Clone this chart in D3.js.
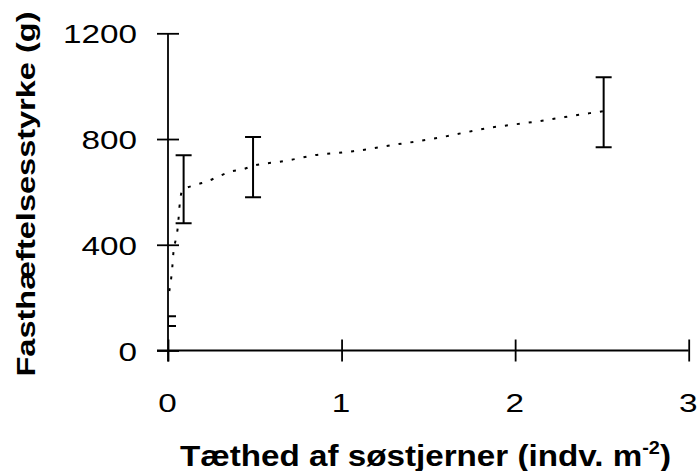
<!DOCTYPE html>
<html>
<head>
<meta charset="utf-8">
<script src="https://cdn.jsdelivr.net/npm/d3@7"></script>
<style>
  body { margin: 0; background: #fff; }
  text { font-family: "Liberation Sans", Arial, sans-serif; fill: #000; }
</style>
</head>
<body>
<div id="chart"></div>
<script>
// Density of starfish (x) and attachment strength (y)
const densX = [0, 0.09, 0.49, 2.51];
const strengthMean = [112, 610, 694, 901];
const errLow = [93, 481, 580, 769];
const errHigh = [130, 739, 808, 1034];

// dotted trend line
const trendX = [0.0075, 0.025, 0.031, 0.044, 0.056, 0.069, 0.082, 0.156, 0.223, 0.29, 0.357, 0.434, 0.497, 0.569, 0.645, 0.722, 0.857, 0.952, 1.067, 1.145, 1.289, 1.433, 1.577, 1.721, 1.865, 1.97, 2.075, 2.143, 2.216, 2.286, 2.359, 2.43, 2.507];
const trendY = [225, 317, 369, 418, 463, 563, 605, 626, 639, 658, 676, 686, 700, 708, 714, 723, 740, 746, 754, 761, 777, 791, 807, 826, 844, 853, 862, 868, 876, 883, 891, 898, 905];

const xTicks = [0, 1, 2, 3];
const yTicks = [0, 400, 800, 1200];

const svgWidth = 698;
const svgHeight = 471;
const margin = { top: 33.3, left: 168, right: 9.3, bottom: 120.5 };
const width = svgWidth - margin.left - margin.right;
const height = svgHeight - margin.top - margin.bottom;

const svg = d3.select("#chart").append("svg")
  .attr("width", svgWidth)
  .attr("height", svgHeight);

const chartGroup = svg.append("g")
  .attr("transform", `translate(${margin.left}, ${margin.top})`);

const xScale = d3.scaleLinear().domain([0, 3]).range([0, width]);
const yScale = d3.scaleLinear().domain([0, 1200]).range([height, 0]);

const tickLen = 11;
const textStretch = 1.28;

// clip marks to plot area (Excel style)
svg.append("clipPath").attr("id", "plotClip")
  .append("rect").attr("x", 0).attr("y", -20).attr("width", width + 10).attr("height", height + 20);

const plot = chartGroup.append("g").attr("clip-path", "url(#plotClip)");

// trend line
const trendData = trendX.map((x, i) => ({ x: x, y: trendY[i] }));
plot.append("path")
  .datum(trendData)
  .attr("fill", "none")
  .attr("stroke", "#000")
  .attr("stroke-width", 2)
  .attr("stroke-dasharray", "3,9")
  .attr("d", d3.line().x(d => xScale(d.x)).y(d => yScale(d.y)).curve(d3.curveMonotoneX));

// error bars
const bars = densX.map((x, i) => ({ x: x, m: strengthMean[i], lo: errLow[i], hi: errHigh[i] }));
const capW = 8;
const barG = plot.selectAll("g.errBar").data(bars).enter().append("g").classed("errBar", true);
barG.append("line")
  .attr("x1", d => xScale(d.x)).attr("x2", d => xScale(d.x))
  .attr("y1", d => yScale(d.lo)).attr("y2", d => yScale(d.hi));
barG.append("line")
  .attr("x1", d => xScale(d.x) - capW).attr("x2", d => xScale(d.x) + capW)
  .attr("y1", d => yScale(d.hi)).attr("y2", d => yScale(d.hi));
barG.append("line")
  .attr("x1", d => xScale(d.x) - capW).attr("x2", d => xScale(d.x) + capW)
  .attr("y1", d => yScale(d.lo)).attr("y2", d => yScale(d.lo));
barG.selectAll("line").attr("stroke", "#000").attr("stroke-width", 2);

// axes
const xAxis = chartGroup.append("g")
  .attr("transform", `translate(0, ${height})`)
  .call(d3.axisBottom(xScale).tickValues(xTicks).tickFormat(d3.format("d"))
    .tickSize(tickLen).tickSizeOuter(0).tickPadding(0));
const yAxis = chartGroup.append("g")
  .call(d3.axisLeft(yScale).tickValues(yTicks).tickFormat(d3.format("d"))
    .tickSize(tickLen).tickSizeOuter(0).tickPadding(0));

xAxis.select(".domain").remove();
yAxis.select(".domain").remove();

xAxis.selectAll(".tick line").attr("y1", -tickLen).attr("y2", tickLen);
yAxis.selectAll(".tick line").attr("x1", -tickLen).attr("x2", tickLen);

chartGroup.append("line")
  .attr("x1", -tickLen).attr("x2", width)
  .attr("y1", height).attr("y2", height);
chartGroup.append("line")
  .attr("x1", 0).attr("x2", 0)
  .attr("y1", 0).attr("y2", height + tickLen);

chartGroup.selectAll("line").filter(function() { return !this.closest(".errBar"); })
  .attr("stroke", "#000").attr("stroke-width", 1.8);

xAxis.selectAll(".tick text")
  .attr("font-size", 26)
  .attr("font-family", "Liberation Sans, Arial, sans-serif")
  .attr("y", 0).attr("dy", 0)
  .attr("transform", `translate(-1, 61.5) scale(${textStretch},1)`);

yAxis.selectAll(".tick text")
  .attr("font-size", 26)
  .attr("font-family", "Liberation Sans, Arial, sans-serif")
  .attr("x", 0).attr("dy", 0)
  .attr("transform", `translate(-31, 9.5) scale(${textStretch},1)`);

// axis titles
svg.append("text")
  .attr("transform", "translate(35, 194) rotate(-90)")
  .attr("text-anchor", "middle")
  .attr("font-size", 26)
  .attr("font-weight", "bold")
  .attr("textLength", 365)
  .attr("lengthAdjust", "spacingAndGlyphs")
  .text("Fasthæftelsesstyrke (g)");

const xTitle = svg.append("text")
  .attr("x", 180)
  .attr("y", 465.5)
  .attr("font-size", 30)
  .attr("font-weight", "bold")
  .attr("textLength", 491)
  .attr("lengthAdjust", "spacingAndGlyphs");
xTitle.append("tspan").text("Tæthed af søstjerner (indv. m");
xTitle.append("tspan").attr("font-size", 18).attr("dy", -12).text("-2");
xTitle.append("tspan").attr("dy", 12).text(")");
</script>
</body>
</html>
